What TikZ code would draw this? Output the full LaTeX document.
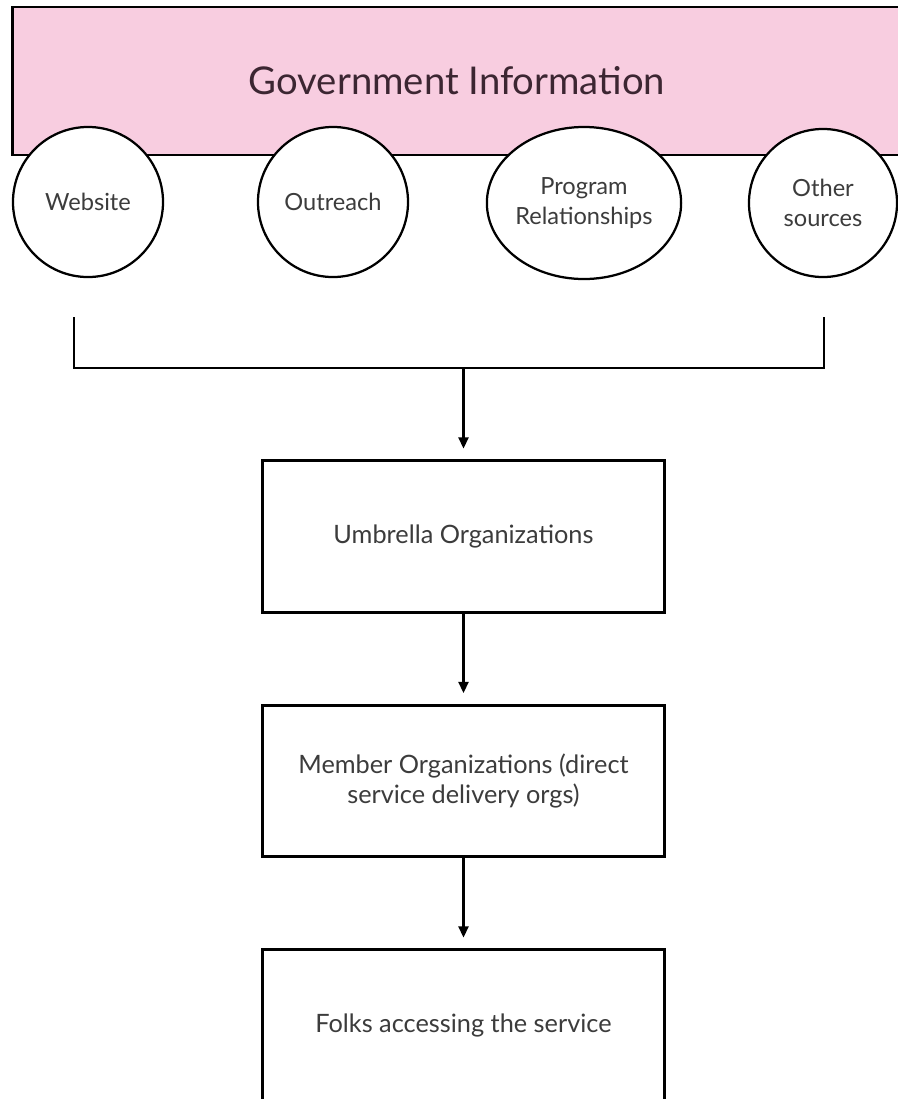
\documentclass[tikz,border=0pt]{standalone}
\usepackage{fontspec}
\setmainfont{Lato}
\usetikzlibrary{arrows.meta,shapes.geometric}
\definecolor{govpink}{RGB}{248,205,224}
\definecolor{govtext}{RGB}{60,38,50}
\definecolor{boxtext}{RGB}{60,60,60}
\tikzset{
  src/.style={shape=circle,draw=black,fill=white,line width=1.6pt,text=boxtext,
    font=\fontsize{16.8}{21.3}\selectfont,align=center,inner sep=0pt},
  org/.style={shape=rectangle,draw=black,fill=white,line width=2pt,
    minimum width=10.05cm,minimum height=3.78cm,text=boxtext,
    font=\fontsize{18}{21.3}\selectfont,align=center},
  flow/.style={-{Triangle[length=8pt,width=7pt]},draw=black,line width=1.8pt,shorten >=0.27cm}
}
\begin{document}
\begin{tikzpicture}[x=0.025cm,y=-0.025cm]
\useasboundingbox (0,0) rectangle (897,1099);
                \node[shape=rectangle,draw=black,fill=govpink,line width=2pt,minimum width=22.2cm,minimum height=3.7cm,text=govtext,font=\fontsize{27.2}{30}\selectfont] (G) at (457,81) {Government Information};

                \node[src,minimum size=3.75cm] (W) at (88,202) {Website};
                \node[src,minimum size=3.75cm] (O) at (333,202) {Outreach};
                \node[src,shape=ellipse,minimum width=4.75cm,minimum height=3.8cm] (P) at (584,203) {Program\\Relationships};
                \node[src,minimum size=3.7cm] (S) at (823,203) {Other\\sources};

                \node[org] (U) at (463.5,536.5) {Umbrella Organizations};
                \node[org] (M) at (463.5,781) {Member Organizations (direct\\service delivery orgs)};
                \node[org] (F) at (463.5,1025.5) {Folks accessing the service};

                \coordinate (L) at (74,317);
                \coordinate (R) at (824,317);
                \coordinate (J) at (463.5,368);
                \draw[line width=1.8pt] (L) |- (J) -| (R);

                \draw [flow] (J) -- (U);
                \draw [flow] (U) -- (M);
                \draw [flow] (M) -- (F);
            \end{tikzpicture}
\end{document}
